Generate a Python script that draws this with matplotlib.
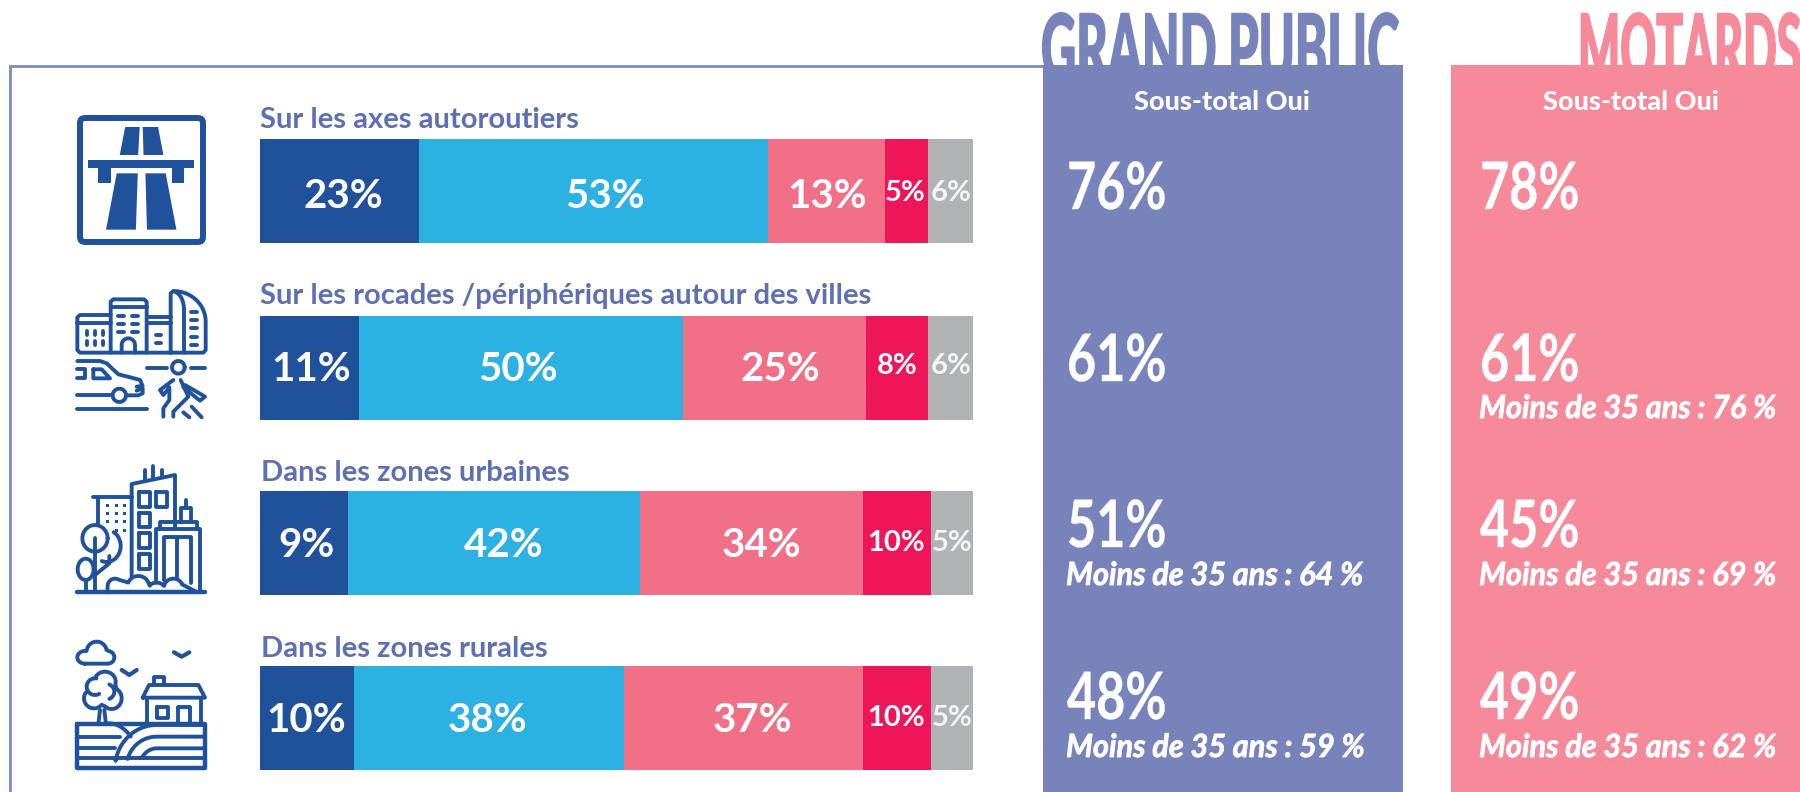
import matplotlib
matplotlib.use("Agg")
import matplotlib.pyplot as plt
import matplotlib.patheffects as pe
import numpy as np
from matplotlib.patches import FancyBboxPatch, Rectangle, Polygon
from matplotlib.transforms import Affine2D

zones = ['Sur les axes autoroutiers', 'Sur les rocades /périphériques autour des villes',
         'Dans les zones urbaines', 'Dans les zones rurales']

# pourcentages affichés dans les barres
tres_bien = [23, 11, 9, 10]
plutot_bien = [53, 50, 42, 38]
plutot_mal = [13, 25, 34, 37]
tres_mal = [5, 8, 10, 10]
nsp = [6, 6, 5, 5]

# longueurs réelles des segments (% de la barre), pas proportionnelles aux chiffres
long_1 = [22.3, 13.9, 12.3, 13.2]
long_2 = [49.0, 45.4, 41.0, 37.9]
long_3 = [16.4, 25.7, 31.3, 33.5]
long_4 = [6.0, 8.7, 9.5, 9.5]
long_5 = [6.3, 6.3, 5.9, 5.9]

oui_public = [76, 61, 51, 48]
oui_motards = [78, 61, 45, 49]
jeunes_public = [None, None, 64, 59]
jeunes_motards = [None, 76, 69, 62]

BLEU = '#20529C'
CIEL = '#2CB1E3'
ROSE = '#F27087'
ROUGE = '#EE1558'
GRIS = '#B1B2B5'
PANEL_B = '#7783BA'
PANEL_R = '#F68A9A'
TITRE = '#5F6FB1'


class Etire(pe.AbstractPathEffect):
    # resserre le texte horizontalement à partir de son origine, avec un léger contour pour l'épaissir
    def __init__(self, sx, gras=0):
        super().__init__()
        self.sx = sx
        self.gras = gras

    def draw_path(self, renderer, gc, tpath, affine, rgbFace=None):
        gc0 = renderer.new_gc()
        gc0.copy_properties(gc)
        gc0.set_foreground(rgbFace)
        gc0.set_linewidth(self.gras)
        renderer.draw_path(gc0, tpath, Affine2D().scale(self.sx, 1) + affine, rgbFace)
        gc0.restore()


fig = plt.figure(figsize=(18, 7.92), dpi=100)

# barres
ax_b = fig.add_axes([260 / 1800, 0, 713 / 1800, 1])
ax_b.set_xlim(0, 100)
ax_b.set_ylim(792, 0)
ax_b.axis('off')
y_barres = [191, 368, 543, 718]
gauche = np.zeros(4)
for longueurs, couleur in zip([long_1, long_2, long_3, long_4, long_5], [BLEU, CIEL, ROSE, ROUGE, GRIS]):
    ax_b.barh(y_barres, longueurs, left=gauche, height=104, color=couleur, linewidth=0)
    gauche = gauche + np.array(longueurs)

# le reste en pixels, par-dessus
ax = fig.add_axes([0, 0, 1, 1])
ax.set_xlim(0, 1800)
ax.set_ylim(792, 0)
ax.axis('off')
ax.set_zorder(2)

# titres coupés par les panneaux
t = ax.text(1041, 82, 'GRAND PUBLIC', family='Lato', weight='black', fontsize=68, color=PANEL_B, va='baseline', zorder=1)
t.set_path_effects([Etire(0.515, 1)])
t = ax.text(1578, 82, 'MOTARDS', family='Lato', weight='black', fontsize=68, color=PANEL_R, va='baseline', zorder=1)
t.set_path_effects([Etire(0.47, 1)])

ax.add_patch(Rectangle((1043, 65), 360, 727, color=PANEL_B, lw=0, zorder=2))
ax.add_patch(Rectangle((1451, 65), 349, 727, color=PANEL_R, lw=0, zorder=2))
ax.plot([10, 10, 1043], [792, 66, 66], color='#7E8AC0', lw=2, zorder=1, solid_joinstyle='miter')

# textes des barres : centre x
x_txt = [[343, 605, 827, 905, 951], [311, 518, 780, 897, 951],
         [306, 504, 762, 896, 952], [306, 488, 753, 896, 952]]
base_grand = [208, 381, 557, 732]
base_petit = [201, 374, 551, 726]
for i in range(4):
    vals = [tres_bien[i], plutot_bien[i], plutot_mal[i], tres_mal[i], nsp[i]]
    for j, v in enumerate(vals):
        if j < 3:
            ax.text(x_txt[i][j], base_grand[i], f'{v}%', family='Lato', weight='bold', fontsize=29,
                    color='white', ha='center', va='baseline', zorder=5)
        else:
            ax.text(x_txt[i][j], base_petit[i], f'{v}%', family='Lato', weight='bold', fontsize=21,
                    color='white' if j == 3 else '#F4F4F4', ha='center', va='baseline', zorder=5)
    x_zone = 260 if i < 2 else 261
    ax.text(x_zone, [128, 304, 481, 657][i], zones[i], family='Lato', weight='bold', fontsize=21,
            color=TITRE, va='baseline', zorder=5)

# panneaux de droite
ax.text(1222, 110, 'Sous-total Oui', family='Lato', weight='black', fontsize=19.5, color='white', ha='center', va='baseline', zorder=5)
ax.text(1631, 110, 'Sous-total Oui', family='Lato', weight='black', fontsize=19.5, color='white', ha='center', va='baseline', zorder=5)
base_gros = [209, 381, 547, 719]
base_jeune = [418, 418, 585, 757]
for x0, oui, jeunes in [(1067, oui_public, jeunes_public), (1480, oui_motards, jeunes_motards)]:
    for i in range(4):
        t = ax.text(x0, base_gros[i], f'{oui[i]}%', family='Lato', weight='bold', fontsize=47,
                    color='white', va='baseline', zorder=5)
        t.set_path_effects([Etire(0.77, 0.3)])
        if jeunes[i] is not None:
            t = ax.text(x0 - 1, base_jeune[i], f'Moins de 35 ans : {jeunes[i]} %', family='Lato', weight='bold',
                        style='italic', fontsize=23, color='white', va='baseline', zorder=5)
            t.set_path_effects([Etire(0.96, 0.6)])


# pictos : coordonnées des zooms de l'image
def trait(pts, ox, oy, sx=1 / 3, sy=1 / 3, lw=2.8, ferme=False):
    pts = np.array(pts, dtype=float)
    if ferme:
        pts = np.vstack([pts, pts[0]])
    ax.plot(ox + pts[:, 0] * sx, oy + pts[:, 1] * sy, color=BLEU, lw=lw, zorder=5,
            solid_capstyle='round', solid_joinstyle='round')


def arc(cx, cy, rx, ry, a0, a1):
    a = np.radians(np.linspace(a0, a1, 30))
    return np.column_stack([cx + rx * np.cos(a), cy + ry * np.sin(a)])


def rond(cx, cy, rx, ry, ox, oy, lw=2.8):
    trait(arc(cx, cy, rx, ry, 0, 360), ox, oy, lw=lw)


# 1 - autoroute
ax.add_patch(FancyBboxPatch((80, 118), 123, 124, boxstyle='round,pad=0,rounding_size=5', fc='none', ec=BLEU, lw=4.3, zorder=5))
k = 1 / 2.613
for poly in [[(313, 465), (327, 381), (365, 381), (361, 465)],
             [(375, 465), (373, 381), (413, 381), (427, 465)],
             [(231, 480), (508, 480), (508, 505), (482, 505), (482, 550), (449, 550), (449, 505),
              (289, 505), (289, 550), (257, 550), (257, 505), (231, 505)],
             [(277, 689), (305, 520), (360, 520), (355, 689)],
             [(384, 689), (380, 520), (433, 520), (461, 689)]]:
    p = np.array(poly, dtype=float) * [k, 1 / 3]
    ax.add_patch(Polygon(p, closed=True, fc=BLEU, ec='none', zorder=5))

# 2 - ville, voiture, piéton
ox, oy = 70, 280
trait([(302, 218), (30, 218), (22, 210), (22, 112), (30, 105), (122, 105)], ox, oy)
trait(np.vstack([[(302, 218), (302, 40), (310, 33)], arc(310, 125, 97, 92, -90, 0), [(407, 210), (400, 218), (302, 218)]]), ox, oy)
trait([(22, 130), (122, 130)], ox, oy)
trait([(122, 218), (122, 65), (130, 58), (222, 58), (230, 65), (230, 218)], ox, oy)
trait([(122, 80), (230, 80)], ox, oy)
trait([(230, 110), (302, 110)], ox, oy)
trait([(230, 130), (302, 130)], ox, oy)
trait(np.vstack([arc(310, 90, 32, 55, -80, 0), [(342, 218)]]), ox, oy)
for wx in [50, 75, 100]:
    for wy in [153, 183]:
        trait([(wx, wy), (wx, wy + 12)], ox, oy)
for wy in [108, 132, 156]:
    trait([(145, wy), (163, wy)], ox, oy)
    trait([(187, wy), (205, wy)], ox, oy)
trait(np.vstack([[(155, 218)], arc(175, 195, 20, 20, 180, 360), [(195, 218)]]), ox, oy)
trait([(258, 165), (272, 165)], ox, oy)
trait([(258, 190), (272, 190)], ox, oy)
for wy in [96, 120, 145, 170, 194]:
    trait([(362, wy), (381, wy)], ox, oy)
trait([(22, 243), (90, 243), (110, 250), (145, 283), (185, 293), (210, 300), (218, 318), (200, 320)], ox, oy)
trait([(200, 332), (218, 325), (218, 340), (205, 346), (172, 346)], ox, oy)
rond(148, 346, 20, 20, ox, oy)
trait([(22, 345), (122, 345)], ox, oy)
trait([(22, 387), (230, 387)], ox, oy)
trait([(22, 268), (45, 268), (45, 295), (22, 295)], ox, oy)
trait([(70, 268), (95, 268), (120, 295), (70, 295)], ox, oy, ferme=True)
rond(325, 262, 19, 19, ox, oy)
trait([(230, 265), (290, 265)], ox, oy)
trait([(362, 265), (405, 265)], ox, oy)
trait([(310, 300), (270, 330), (280, 345), (298, 322), (298, 360), (280, 385), (280, 410)], ox, oy)
trait([(332, 300), (355, 350), (310, 395), (310, 410)], ox, oy)
trait([(345, 315), (405, 350), (390, 362), (340, 322)], ox, oy)
trait([(340, 397), (358, 412)], ox, oy)
trait([(365, 380), (395, 412)], ox, oy)

# 3 - zone urbaine
ox, oy = 70, 460
trait([(20, 397), (405, 397)], ox, oy, lw=3.2)
trait([(70, 110), (185, 110)], ox, oy)
trait([(85, 110), (85, 195)], ox, oy)
trait([(185, 350), (185, 72), (315, 45), (315, 205)], ox, oy)
trait([(225, 62), (225, 30)], ox, oy)
trait([(250, 55), (250, 18)], ox, oy)
trait([(275, 50), (275, 30)], ox, oy)
for w in [(208, 97, 240, 140), (258, 95, 290, 140), (208, 158, 240, 202), (208, 220, 240, 265), (208, 282, 240, 327)]:
    trait([(w[0], w[1]), (w[2], w[1]), (w[2], w[3]), (w[0], w[3])], ox, oy, ferme=True)
for wx in [112, 138, 163]:
    for wy in [135, 160, 185]:
        ax.add_patch(Rectangle((ox + wx / 3 - 1.5, oy + wy / 3 - 1.5), 3.2, 3.2, color=BLEU, lw=0, zorder=5))
for wx in [138, 163]:
    ax.add_patch(Rectangle((ox + wx / 3 - 1.5, oy + 210 / 3 - 1.5), 3.2, 3.2, color=BLEU, lw=0, zorder=5))
trait([(258, 360), (258, 207), (390, 207), (390, 397)], ox, oy)
trait([(270, 207), (270, 185), (380, 185), (380, 207)], ox, oy)
trait([(332, 185), (332, 145), (362, 145), (362, 185)], ox, oy)
trait([(348, 145), (348, 120)], ox, oy)
trait([(282, 360), (282, 232), (362, 232), (362, 370)], ox, oy)
trait([(320, 232), (320, 350)], ox, oy)
rond(75, 235, 38, 40, ox, oy)
trait(arc(110, 258, 42, 48, -60, 110), ox, oy)
trait([(75, 235), (75, 397)], ox, oy)
rond(47, 328, 24, 32, ox, oy)
trait([(47, 360), (47, 397)], ox, oy)
trait([(75, 345), (118, 310), (118, 288)], ox, oy)
trait(np.vstack([[(112, 397)], arc(135, 378, 22, 22, 180, 300), arc(205, 378, 32, 30, 200, 340),
                 arc(260, 382, 22, 14, 200, 340), arc(310, 382, 28, 26, 190, 340), [(378, 395)]]), ox, oy)

# 4 - zone rurale
ox, oy = 70, 635
trait([(22, 268), (405, 268), (405, 400), (22, 400)], ox, oy, lw=3.2, ferme=True)
trait([(22, 305), (150, 305)], ox, oy)
trait([(22, 340), (135, 340)], ox, oy)
trait([(22, 368), (405, 368)], ox, oy)
trait(np.vstack([arc(115, 400, 95, 135, -95, -45)]), ox, oy)
trait(np.vstack([[(135, 368)], arc(260, 400, 125, 130, 190, 270), [(405, 270)]]), ox, oy)
trait(np.vstack([[(170, 368)], arc(260, 395, 90, 90, 195, 270), [(405, 305)]]), ox, oy)
trait(np.vstack([[(210, 368)], arc(260, 395, 50, 55, 210, 270), [(405, 340)]]), ox, oy)
trait([(232, 268), (232, 190)], ox, oy)
trait([(392, 268), (392, 190)], ox, oy)
trait([(218, 188), (405, 188), (385, 150), (237, 150)], ox, oy, ferme=True)
trait([(253, 150), (253, 125), (283, 125), (283, 150)], ox, oy)
trait([(260, 217), (293, 217), (293, 250), (260, 250)], ox, oy, ferme=True)
trait([(325, 268), (325, 217), (360, 217), (360, 268)], ox, oy)
trait([(85, 268), (90, 225)], ox, oy)
trait([(108, 268), (103, 225)], ox, oy)
trait(np.vstack([arc(75, 155, 25, 25, 60, 280), arc(105, 140, 32, 30, 210, 375),
                 arc(125, 190, 30, 32, -60, 130), arc(72, 190, 30, 30, 40, 215)]), ox, oy)
trait(np.vstack([arc(103, 170, 30, 25, -60, 60)]), ox, oy)
trait(np.vstack([arc(45, 67, 23, 19, 90, 280), arc(80, 50, 30, 30, 190, 350), arc(113, 67, 20, 19, -80, 90)]), ox, oy, ferme=True)
trait([(155, 105), (178, 120), (200, 105)], ox, oy, lw=3)
trait([(312, 52), (335, 65), (358, 52)], ox, oy, lw=3)

plt.savefig('out.png', dpi=100)
